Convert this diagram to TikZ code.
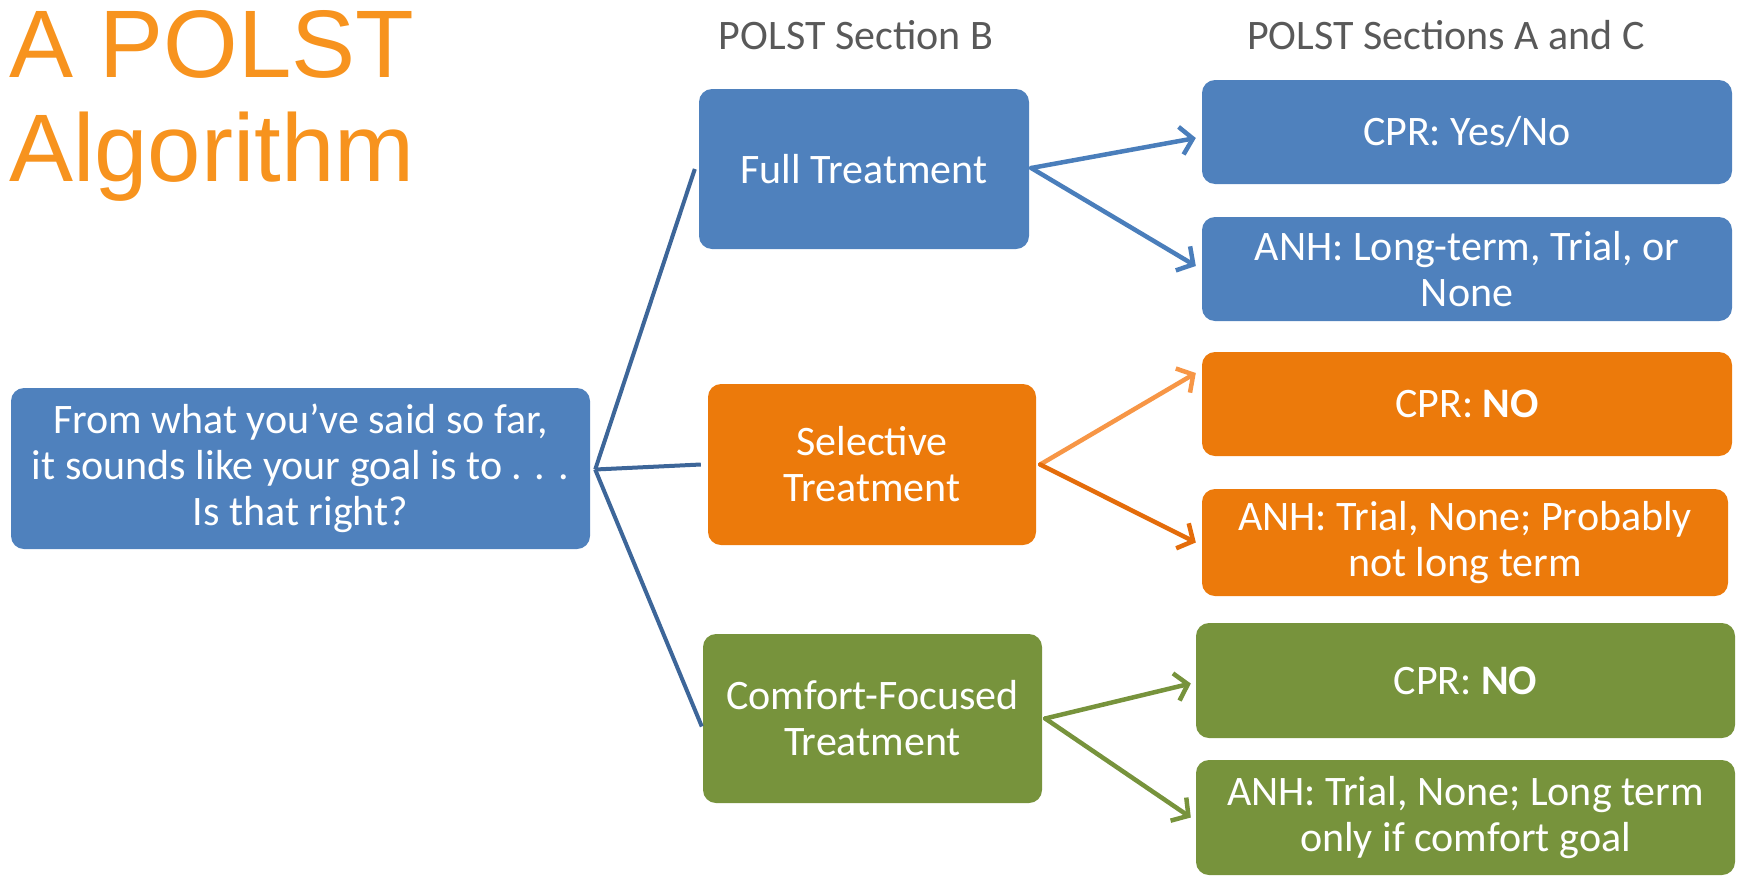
\documentclass[tikz,border=0pt]{standalone}
\usepackage{fontspec}
\setmainfont{Carlito}
\newfontfamily\titlefont{Liberation Sans}
\usetikzlibrary{arrows.meta}
\definecolor{boxblue}{HTML}{4F81BD}
\definecolor{boxorange}{HTML}{EC7A0B}
\definecolor{boxgreen}{HTML}{77933C}
\definecolor{linkblue}{HTML}{3D6699}
\definecolor{arrblue}{HTML}{4A7EBB}
\definecolor{arrorange}{HTML}{F79646}
\definecolor{arrorangedk}{HTML}{E46C0A}
\definecolor{titleorange}{HTML}{F7931E}
\definecolor{headgray}{HTML}{595959}
\tikzset{
  card/.style={rounded corners=13pt, inner sep=0pt, align=center, text=white,
    font=\fontsize{42}{46}\selectfont},
  head/.style={text=headgray, font=\fontsize{42}{46}\selectfont, inner sep=0pt},
  link/.style={draw=linkblue, line width=4pt},
  branch/.style={line width=4.5pt, -{Straight Barb[length=12pt,width=28pt,line width=4.5pt]}, line cap=round},
}
% place a card by its corner coordinates
\newcommand{\card}[7]{%
  \node[card, fill=#2, minimum width={#5-#3}, minimum height={#6-#4}]
    (#1) at ({(#3+#5)/2},{(#4+#6)/2}) {#7};}
\begin{document}
\begin{tikzpicture}[x=1pt, y=-1pt]
\useasboundingbox (0,0) rectangle (1737,876);

% title
\node[anchor=base west, inner sep=0pt, text=titleorange,
      font=\titlefont\fontsize{96}{104}\selectfont] (t1) at (9,77) {A POLST};
\node[anchor=base west, inner sep=0pt, text=titleorange,
      font=\titlefont\fontsize{96}{104}\selectfont] (t2) at (9,181) {Algorithm};

% column headings
\node[head] (hb) at (856,35) {POLST Section B};
\node[head] (hac) at (1446,35) {POLST Sections A and C};

% question
\card{q}{boxblue}{11}{388}{590}{549}{From what you’ve said so far,\\it sounds like your goal is to . . .\\Is that right?}

% section B choices
\card{full}{boxblue}{699}{89}{1029}{249}{Full Treatment}
\card{sel}{boxorange}{708}{384}{1036}{545}{Selective\\Treatment}
\card{comf}{boxgreen}{703}{634}{1042}{803}{Comfort-Focused\\Treatment}

% sections A and C results
\card{fcpr}{boxblue}{1202}{80}{1732}{184}{CPR: Yes/No}
\card{fanh}{boxblue}{1202}{217}{1732}{321}{ANH: Long-term, Trial, or\\None}
\card{scpr}{boxorange}{1202}{352}{1732}{456}{CPR: \textbf{NO}}
\card{sanh}{boxorange}{1202}{489}{1728}{596}{ANH: Trial, None; Probably\\not long term}
\card{ccpr}{boxgreen}{1196}{623}{1735}{738}{CPR: \textbf{NO}}
\card{canh}{boxgreen}{1196}{760}{1735}{875}{ANH: Trial, None; Long term\\only if comfort goal}

% question to choices
\coordinate (qo) at ([xshift=5pt,yshift=-1pt]q.east);
\draw[link] (qo) -- ([xshift=-4pt]full.west);
\draw[link] (qo) -- ([xshift=-7pt]sel.west);
\draw[link] (qo) -- ([xshift=-1pt,yshift=-8pt]comf.west);

% choices to results
\coordinate (fo) at ([xshift=2pt,yshift=1pt]full.east);
\draw[branch, arrblue] (fo) -- ([xshift=-6pt,yshift=-6pt]fcpr.west);
\draw[branch, arrblue] (fo) -- ([xshift=-6pt,yshift=3pt]fanh.west);
\coordinate (so) at ([xshift=4pt]sel.east);
\draw[branch, arrorange] (so) -- ([xshift=-6pt,yshift=31pt]scpr.west);
\draw[branch, arrorangedk] (so) -- ([xshift=-6pt]sanh.west);
\coordinate (co) at ([xshift=3pt]comf.east);
\draw[branch, boxgreen] (co) -- ([xshift=-5pt,yshift=-3pt]ccpr.west);
\draw[branch, boxgreen] (co) -- ([xshift=-5pt]canh.west);
\end{tikzpicture}
\end{document}
